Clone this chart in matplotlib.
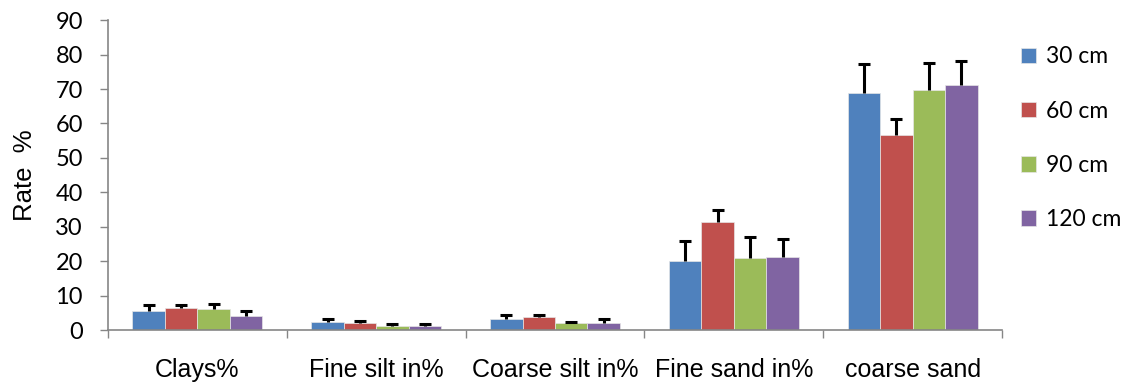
import numpy as np
import matplotlib
matplotlib.use("Agg")
import matplotlib.pyplot as plt

plt.rcParams['font.family'] = ['Lato', 'DejaVu Sans']

categories = ["Clays%", "Fine silt in%", "Coarse silt in%", "Fine sand in%", "coarse sand"]
depths = ["30 cm", "60 cm", "90 cm", "120 cm"]
colors = ["#4F81BD", "#C0504D", "#9BBB59", "#8064A2"]

# mean values per depth (one list per series, in category order)
values = {
    "30 cm": [5.5, 2.3, 3.2, 20.0, 68.9],
    "60 cm": [6.3, 2.0, 3.8, 31.3, 56.7],
    "90 cm": [6.0, 1.25, 1.95, 21.0, 69.7],
    "120 cm": [4.0, 1.2, 2.2, 21.2, 71.2],
}
# upward error bars
errors = {
    "30 cm": [1.7, 0.8, 1.15, 5.8, 8.3],
    "60 cm": [1.05, 0.7, 0.55, 3.5, 4.5],
    "90 cm": [1.6, 0.55, 0.55, 6.1, 7.9],
    "120 cm": [1.6, 0.45, 0.9, 5.2, 6.9],
}

fig = plt.figure(figsize=(11.25, 3.87), dpi=100)
ax = fig.add_axes([0.096, 0.147, 0.7947, 0.801])

x = np.arange(len(categories))
bw = 0.1816
for i, d in enumerate(depths):
    pos = x + (i - 1.5) * bw
    ax.bar(pos, values[d], width=bw, color=colors[i], label=d,
           edgecolor="#E6E6E6", linewidth=0.5, zorder=2)
    eb = ax.errorbar(pos, values[d], yerr=[np.zeros(len(categories)), errors[d]],
                     fmt="none", ecolor="black", elinewidth=2.2, capsize=4.5,
                     capthick=2.2, zorder=3)
    # only the upper cap, like the original
    eb[1][0].set_visible(False)

ax.set_ylim(0, 90)
ax.set_xlim(-0.5, len(categories) - 0.5)
ax.set_yticks(np.arange(0, 91, 10))
ax.tick_params(axis="y", labelsize=17, length=6, width=1, color="#868686", pad=12)

ax.set_xticks(np.arange(-0.5, len(categories), 1.0))
ax.set_xticklabels([])
ax.tick_params(axis="x", which="major", length=6, width=1, color="#868686")
ax.set_xticks(x, minor=True)
ax.set_xticklabels(categories, minor=True, fontsize=18, family="Liberation Sans")
ax.tick_params(axis="x", which="minor", length=0, pad=20)

for s in ["top", "right"]:
    ax.spines[s].set_visible(False)
for s in ["left", "bottom"]:
    ax.spines[s].set_color("#868686")
    ax.spines[s].set_linewidth(1.2)

ax.set_ylabel("Rate  %", fontsize=18.5, family="Liberation Sans", labelpad=13)

ax.legend(loc="upper left", bbox_to_anchor=(1.021, 0.915), frameon=False,
          prop={"size": 16.5}, handlelength=0.65, handleheight=0.65,
          handletextpad=0.45, labelspacing=1.45, borderpad=0, borderaxespad=0)

fig.savefig("out.png", dpi=100)
